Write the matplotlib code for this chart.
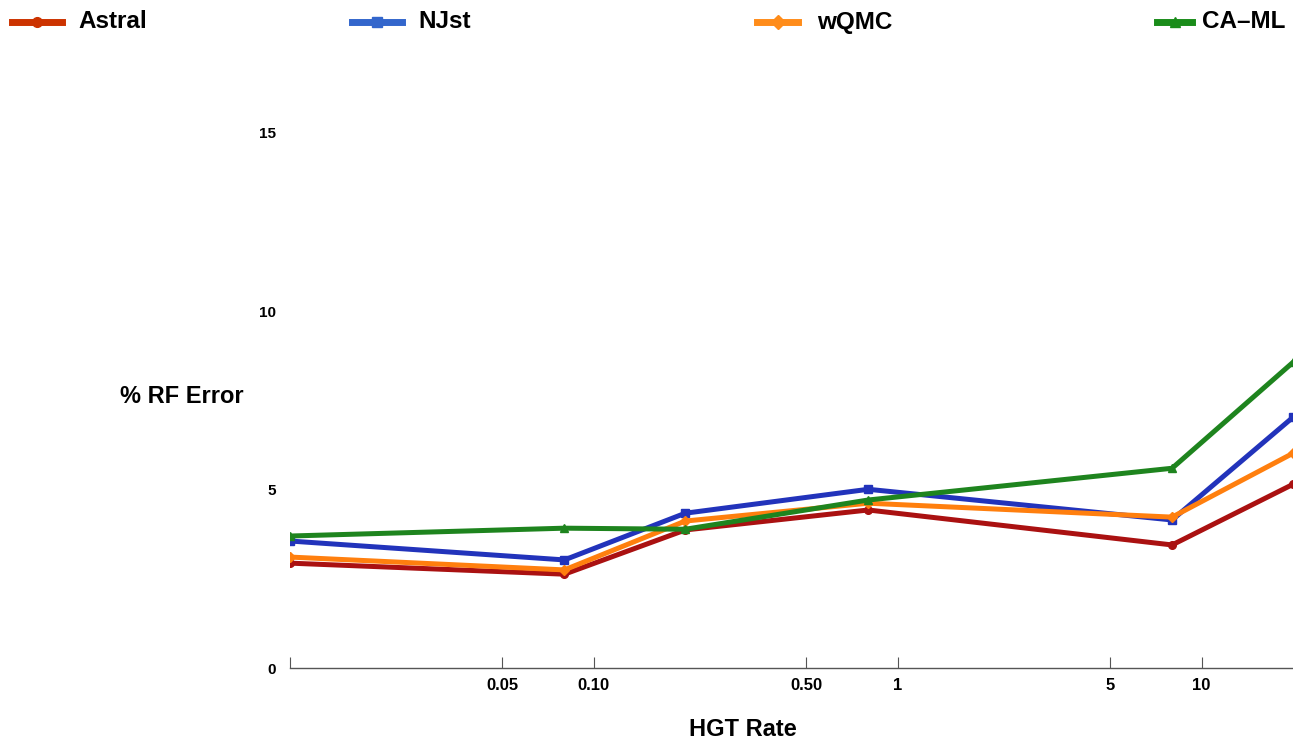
import matplotlib
matplotlib.use("Agg")
import matplotlib.pyplot as plt
from matplotlib.lines import Line2D

plt.rcParams['font.family'] = ['Liberation Sans', 'DejaVu Sans']
plt.rcParams['font.weight'] = 'bold'

# HGT rate (x) and % RF error for each method
hgt_rate = [0.01, 0.08, 0.2, 0.8, 8, 20]
astral = [2.94, 2.63, 3.87, 4.43, 3.45, 5.15]
njst = [3.56, 3.03, 4.34, 5.01, 4.15, 7.03]
wqmc = [3.11, 2.75, 4.12, 4.62, 4.23, 6.02]
caml = [3.70, 3.92, 3.89, 4.71, 5.60, 8.57]

methods = ["Astral", "NJst", "wQMC", "CA\u2013ML"]
line_colors = ["#AA1111", "#2233BB", "#FF7F0E", "#1E841E"]
legend_colors = ["#CC3300", "#3366CC", "#FF8C1A", "#1A8C1A"]
markers = ["o", "s", "D", "^"]

xticks = [0.01, 0.05, 0.1, 0.5, 1, 5, 10]
xtick_labels = ["", "0.05", "0.10", "0.50", "1", "5", "10"]
yticks = [0, 5, 10, 15]

fig = plt.figure(figsize=(12.93, 7.41), dpi=100)
ax = fig.add_axes([290 / 1293, 73 / 741, 1 - 290 / 1293, (668 - 97.3) / 741])

series = [astral, njst, wqmc, caml]
for vals, c, m in zip(series, line_colors, markers):
    ax.plot(hgt_rate, vals, color=c, lw=3.6, marker=m, markersize=5.5, zorder=3)

ax.set_xscale("log")
ax.set_xlim(0.01, 20)
ax.set_ylim(0, 16)
ax.set_xticks(xticks)
ax.set_xticklabels(xtick_labels, fontsize=12, fontweight='bold')
ax.minorticks_off()
ax.set_yticks(yticks)
ax.set_yticklabels([str(v) for v in yticks], fontsize=11, fontweight='bold')
ax.tick_params(axis='x', direction='in', length=8, color='#555555', pad=7)
ax.tick_params(axis='y', length=0, pad=10)

for s in ['top', 'right', 'left']:
    ax.spines[s].set_visible(False)
ax.spines['bottom'].set_color('#555555')
ax.spines['bottom'].set_linewidth(1)

fig.text(182 / 1293, 1 - 397 / 741, "% RF Error", ha='center', va='center',
         fontsize=17, fontweight='bold')
fig.text(743 / 1293, 1 - 730 / 741, "HGT Rate", ha='center', va='center',
         fontsize=17, fontweight='bold')

# legend drawn along the top
leg_x = [(12, 62, 78), (352, 402, 418), (757, 798, 817), (1157, 1192, 1202)]
for (x0, x1, xt), name, c, m in zip(leg_x, methods, legend_colors, markers):
    y = 1 - 22 / 741
    fig.add_artist(Line2D([x0 / 1293, x1 / 1293], [y, y], color=c, lw=5,
                          transform=fig.transFigure))
    fig.add_artist(Line2D([(x0 + x1) / 2 / 1293], [y], color=c, marker=m,
                          markersize=7, transform=fig.transFigure))
    fig.text(xt / 1293, y, name, ha='left', va='center', fontsize=17.5,
             fontweight='bold')

fig.savefig("out.png", dpi=100)
